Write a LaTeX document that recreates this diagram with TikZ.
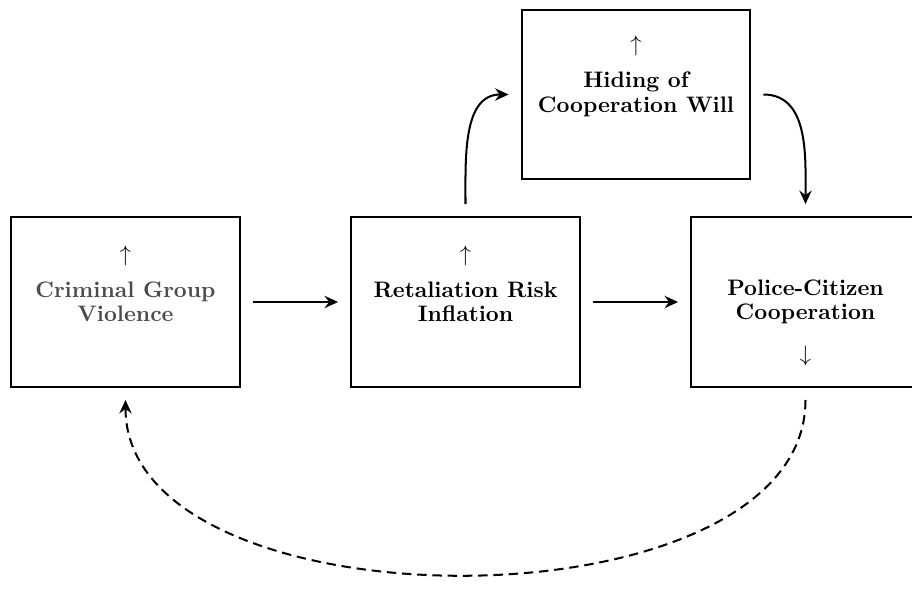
\documentclass[tikz,border=0pt]{standalone}
\usetikzlibrary{arrows.meta}
\begin{document}
\begin{tikzpicture}[x=0.446pt,y=-0.446pt,
  factorbox/.style={draw=black,line width=0.9pt,minimum width=102.1pt,minimum height=75.8pt,
    inner sep=0pt,outer sep=5.8pt,align=center,font=\fontsize{10}{10.9}\selectfont\bfseries},
  link/.style={line width=0.9pt,-{Stealth[length=6pt,width=5.5pt,inset=2pt]}},
  sign/.style={inner sep=0pt,font=\fontsize{10}{12}\selectfont}]
\useasboundingbox (0,0) rectangle (912,602);
\node[factorbox,text=black!70] (cgv) at (125.5,302) {Criminal Group\\Violence};
\node[factorbox] (rri) at (465.5,302) {Retaliation Risk\\Inflation};
\node[factorbox] (pcc) at (805.5,302) {Police-Citizen\\Cooperation};
\node[factorbox] (hcw) at (636,94.5) {Hiding of\\Cooperation Will};
\node[sign] (s1) at (125.5,255.5) {$\uparrow$};
\node[sign] (s2) at (465.5,255.5) {$\uparrow$};
\node[sign] (s3) at (805.5,356) {$\downarrow$};
\node[sign] (s4) at (636,46) {$\uparrow$};
\draw[link] (cgv) -- (rri);
\draw[link] (rri) -- (pcc);
\draw[link] (rri.north) to[out=90,in=180] (hcw.west);
\draw[link] (hcw.east) to[out=0,in=90] (pcc.north);
\draw[link,dash pattern=on 4.2pt off 2.6pt] (pcc.south) .. controls +(0,233) and +(0,233) .. (cgv.south);
\end{tikzpicture}
\end{document}
